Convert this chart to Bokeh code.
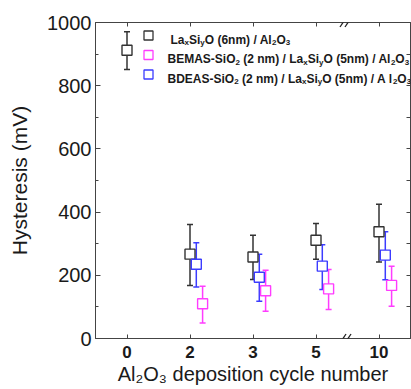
from bokeh.plotting import figure
from bokeh.models import (Range1d, LinearAxis, FixedTicker, Whisker, TeeHead,
                          ColumnDataSource, Label, Arrow)
from bokeh.embed import file_html
from bokeh.resources import INLINE

# ---------------- data ----------------
cycles = ["0", "2", "3", "5", "10"]

lasio_cycles = ["0", "2", "3", "5", "10"]
lasio_val = [912, 267, 258, 311, 338]
lasio_lo = [851, 168, 187, 251, 242]
lasio_hi = [971, 361, 327, 364, 425]

bemas_cycles = ["2", "3", "5", "10"]
bemas_val = [110, 151, 157, 168]
bemas_lo = [49, 86, 92, 102]
bemas_hi = [165, 216, 218, 229]

bdeas_cycles = ["2", "3", "5", "10"]
bdeas_val = [235, 194, 229, 264]
bdeas_lo = [163, 118, 155, 186]
bdeas_hi = [303, 267, 297, 338]

y_ticks = [0, 200, 400, 600, 800, 1000]

x_title = "Al\u2082O\u2083 deposition cycle number"
y_title = "Hysteresis (mV)"

# ---------------- style ----------------
FONT = "Liberation Sans"
C_BLACK = "#333333"
C_MAG = "#ff3cff"
C_BLUE = "#3c3cff"
TXT = "#1a1a1a"
AX = "#444444"

W, H = 411, 389
FL, FR, FT, FB = 95, 410, 22, 338   # frame edges in pixels

p = figure(width=W, height=H, output_backend="svg", toolbar_location=None,
           x_range=Range1d(-0.5, len(cycles) - 0.5), y_range=Range1d(0, 1000),
           min_border_left=FL, min_border_right=W - FR, min_border_top=FT,
           min_border_bottom=H - FB)
p.background_fill_color = "white"
p.border_fill_color = "white"
p.outline_line_color = AX
p.outline_line_width = 1
p.xgrid.visible = False
p.ygrid.visible = False

def px2x(px):
    return (px - FL) / (FR - FL) * len(cycles) - 0.5

def py2y(py):
    return (FB - py) * 1000.0 / (FB - FT)

# bottom axis
xa = p.xaxis[0]
xa.ticker = FixedTicker(ticks=list(range(len(cycles))))
xa.major_label_overrides = {i: c for i, c in enumerate(cycles)}
xa.major_label_text_font = FONT
xa.major_label_text_font_size = "17px"
xa.major_label_text_font_style = "bold"
xa.major_label_text_color = TXT
xa.major_label_standoff = 7
xa.major_tick_in = 4
xa.major_tick_out = 0
xa.minor_tick_line_color = None
xa.axis_line_color = AX
xa.major_tick_line_color = AX
xa.axis_label = x_title
xa.axis_label_text_font = FONT
xa.axis_label_text_font_size = "20px"
xa.axis_label_text_font_style = "normal"
xa.axis_label_text_color = TXT
xa.axis_label_standoff = 2

# left axis
ya = p.yaxis[0]
ya.ticker = FixedTicker(ticks=y_ticks, minor_ticks=[100, 300, 500, 700, 900])
ya.major_label_text_font = FONT
ya.major_label_text_font_size = "20px"
ya.major_label_text_color = TXT
ya.major_label_standoff = 4
ya.major_tick_in = 5
ya.major_tick_out = 0
ya.minor_tick_in = 3
ya.minor_tick_out = 0
ya.axis_line_color = AX
ya.major_tick_line_color = AX
ya.minor_tick_line_color = AX
ya.axis_label = y_title
ya.axis_label_text_font = FONT
ya.axis_label_text_font_size = "21px"
ya.axis_label_text_font_style = "normal"
ya.axis_label_text_color = TXT
ya.axis_label_standoff = 13

# top axis (ticks only, no labels drawn)
ta = LinearAxis(ticker=FixedTicker(ticks=list(range(len(cycles)))),
                major_label_text_color=None, major_label_standoff=0,
                major_tick_in=4, major_tick_out=0, minor_tick_line_color=None,
                axis_line_color=AX, major_tick_line_color=AX)
p.add_layout(ta, "above")
# right axis (ticks only, no labels drawn)
ra = LinearAxis(ticker=FixedTicker(ticks=list(range(0, 1001, 100))),
                major_label_text_color=None, major_label_standoff=0,
                major_tick_in=4, major_tick_out=0, minor_tick_line_color=None,
                axis_line_color=AX, major_tick_line_color=AX)
p.add_layout(ra, "right")

# ---------------- series ----------------
series = [
    (lasio_cycles, lasio_val, lasio_lo, lasio_hi, C_BLACK, 0.0),
    (bemas_cycles, bemas_val, bemas_lo, bemas_hi, C_MAG, 0.2),
    (bdeas_cycles, bdeas_val, bdeas_lo, bdeas_hi, C_BLUE, 0.1),
]
for cyc, val, lo, hi, col, off in series:
    src = ColumnDataSource(dict(x=[cycles.index(c) + off for c in cyc],
                                y=val, lo=lo, hi=hi))
    wk = Whisker(base="x", lower="lo", upper="hi", source=src, dimension="height",
                 line_color=col, line_width=1.5,
                 upper_head=TeeHead(size=6, line_color=col, line_width=1.5),
                 lower_head=TeeHead(size=6, line_color=col, line_width=1.5))
    p.add_layout(wk)
    p.scatter("x", "y", source=src, marker="square", size=10, line_color=col,
              line_width=1.4, fill_color="white")

# ---------------- rich text helper (legend with sub-scripts) ----------------
BOLD_W = {' ': 278, '(': 333, ')': 333, '/': 278, '-': 333, 'A': 722, 'B': 722,
          'D': 722, 'E': 667, 'L': 611, 'M': 833, 'O': 778, 'S': 667, 'a': 556,
          'i': 278, 'l': 278, 'm': 889, 'n': 611, 'x': 556, 'y': 556}

def text_w(s, size):
    return sum(BOLD_W.get(ch, 556) for ch in s) * size / 1000.0

def rich(frags, px, py, size, subsize, color, drop):
    for txt, sub in frags:
        fs = subsize if sub else size
        stripped = txt.lstrip(" ")
        px += text_w(txt[:len(txt) - len(stripped)], fs)
        p.add_layout(Label(x=px2x(px), y=py2y(py + (drop if sub else 0)), text=stripped,
                           text_font=FONT, text_font_size=f"{fs}px",
                           text_font_style="bold",
                           text_color=color, text_align="left",
                           text_baseline="alphabetic"))
        px += text_w(stripped, fs)

# ---------------- legend ----------------
legend_rows = [
    (C_BLACK, 170, [("La", 0), ("x", 1), ("Si", 0), ("y", 1), ("O (6nm) / Al", 0),
                    ("2", 1), ("O", 0), ("3", 1)]),
    (C_MAG, 167, [("BEMAS-SiO", 0), ("2", 1), (" (2 nm) / La", 0), ("x", 1), ("Si", 0),
                  ("y", 1), ("O (5nm) / Al", 0), ("2", 1), ("O", 0), ("3", 1)]),
    (C_BLUE, 167, [("BDEAS-SiO", 0), ("2", 1), (" (2 nm) / La", 0), ("x", 1), ("Si", 0),
                   ("y", 1), ("O (5nm) / A l", 0), ("2", 1), ("O", 0), ("3", 1)]),
]
row_py = [35, 54.5, 74]
key_px = 148
for (col, tx, frags), ry in zip(legend_rows, row_py):
    p.scatter([px2x(key_px)], [py2y(ry)], marker="square", size=9, line_color=col,
              line_width=1.3, fill_color="white")
    rich(frags, tx, ry + 4.3, 12, 8, TXT, 3)

# ---------------- axis break marks ----------------
bx = px2x(345)
dxu = 3.0 / 63
dyu = 4.5 * 1000 / 316
sep = 5.0 / 63
for yb in (0, 1000):
    for k in (-0.5, 0.5):
        p.add_layout(Arrow(end=None, x_start=bx + k * sep - dxu, y_start=yb - dyu,
                           x_end=bx + k * sep + dxu, y_end=yb + dyu,
                           line_color="#222222", line_width=1.3))

open("out.html", "w").write(file_html(p, INLINE))
